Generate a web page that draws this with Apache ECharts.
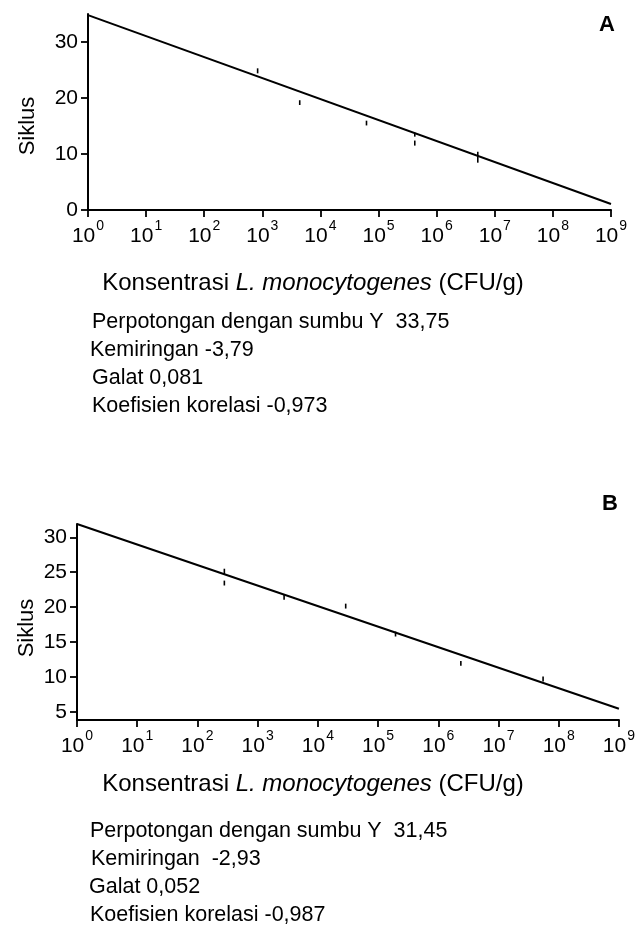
<!DOCTYPE html>
<html>
<head>
<meta charset="utf-8">
<script src="https://cdn.jsdelivr.net/npm/echarts@6/dist/echarts.min.js"></script>
<style>
html,body{margin:0;padding:0;background:#fff;}
#c{width:638px;height:937px;}
</style>
</head>
<body>
<div id="c"></div>
<script>
// ---- Data ----
const xTicks = [1, 1e1, 1e2, 1e3, 1e4, 1e5, 1e6, 1e7, 1e8, 1e9];
const yTicksA = [0, 10, 20, 30];
const yTicksB = [5, 10, 15, 20, 25, 30];

// Panel A: concentration (CFU/g), error bar low / high (cycles)
const concA = [830, 4400, 62000, 420000, 420000, 5100000];
const lowA  = [24.4, 18.75, 15.1, 13.1, 11.5, 8.45];
const highA = [25.3, 19.6, 15.95, 13.8, 12.4, 10.4];
const fitXA = [1, 1e9];
const fitYA = [34.8, 1.07];

// Panel B
const concB = [280, 280, 2750, 29000, 195000, 2370000, 55000000];
const lowB  = [24.6, 23.1, 21.07, 19.8, 15.8, 11.6, 9.35];
const highB = [25.5, 23.8, 21.8, 20.5, 16.5, 12.3, 10.07];
const fitXB = [1, 1e9];
const fitYB = [31.9, 5.45];

const xTitle = '{n|Konsentrasi }{i|L. monocytogenes}{n| (CFU/g)}';
const yTitle = 'Siklus';
const statsA = ['Perpotongan dengan sumbu Y  33,75', 'Kemiringan -3,79', 'Galat 0,081', 'Koefisien korelasi -0,973'];
const statsB = ['Perpotongan dengan sumbu Y  31,45', 'Kemiringan  -2,93', 'Galat 0,052', 'Koefisien korelasi -0,987'];

// ---- Chart ----
const FONT = "'Liberation Sans', Arial, sans-serif";
const chart = echarts.init(document.getElementById('c'), null, {renderer: 'canvas'});

function xAxisDef(gridIndex) {
  return {
    type: 'log', logBase: 10, gridIndex: gridIndex, min: 1, max: 1e9,
    axisLine: {show: true, lineStyle: {color: '#000', width: 2}},
    axisTick: {show: true, inside: false, length: 7, lineStyle: {color: '#000', width: 1.8}, customValues: xTicks},
    splitLine: {show: false},
    minorTick: {show: false},
    axisLabel: {
      customValues: xTicks,
      margin: 9, color: '#000',
      formatter: function (v) { return '{b|10}{s|' + Math.round(Math.log10(v)) + '}'; },
      rich: {
        b: {fontSize: 21, fontFamily: FONT, color: '#000', lineHeight: 28, verticalAlign: 'bottom'},
        s: {fontSize: 14, fontFamily: FONT, color: '#000', lineHeight: 14, verticalAlign: 'top', padding: [0, 0, 0, 1]}
      }
    }
  };
}
function yAxisDef(gridIndex, min, max, ticks) {
  return {
    type: 'value', gridIndex: gridIndex, min: min, max: max,
    axisLine: {show: true, lineStyle: {color: '#000', width: 2}},
    axisTick: {show: true, inside: false, length: 7, lineStyle: {color: '#000', width: 1.8}, customValues: ticks},
    splitLine: {show: false},
    axisLabel: {customValues: ticks, margin: 10, color: '#000', fontSize: 21, fontFamily: FONT}
  };
}

function errBar(params, api) {
  const x = api.value(0);
  const p1 = api.coord([x, api.value(1)]);
  const p2 = api.coord([x, api.value(2)]);
  return {type: 'line', shape: {x1: p1[0], y1: p1[1], x2: p2[0], y2: p2[1]},
          style: {stroke: '#000', lineWidth: 1.6}};
}

function textLines(lines, xs, ys, size) {
  return lines.map(function (t, i) {
    return {type: 'text', x: xs[i], y: ys[i],
            style: {text: t, fontSize: size, fontFamily: FONT, fill: '#000', verticalAlign: 'middle', align: 'left'}};
  });
}
function xTitleText(x, y) {
  return {type: 'text', x: x, y: y,
    style: {text: xTitle, align: 'center', verticalAlign: 'middle',
      rich: {
        n: {fontSize: 24, fontFamily: FONT, fill: '#000'},
        i: {fontSize: 24, fontFamily: FONT, fill: '#000', fontStyle: 'italic'}
      }}};
}
function yTitleText(x, y) {
  return {type: 'text', x: x, y: y, rotation: Math.PI / 2,
    style: {text: yTitle, fontSize: 22, fontFamily: FONT, fill: '#000', align: 'center', verticalAlign: 'middle'}};
}

const option = {
  backgroundColor: '#fff',
  animation: false,
  grid: [
    {left: 88, right: 27, top: 14, height: 196},
    {left: 77, right: 15, top: 524, height: 196}
  ],
  xAxis: [xAxisDef(0), xAxisDef(1)],
  yAxis: [yAxisDef(0, 0, 35, yTicksA), yAxisDef(1, 3.85, 31.9, yTicksB)],
  series: [
    {type: 'line', xAxisIndex: 0, yAxisIndex: 0, symbol: 'none',
     data: fitXA.map(function (x, i) { return [x, fitYA[i]]; }),
     lineStyle: {color: '#000', width: 2}},
    {type: 'custom', xAxisIndex: 0, yAxisIndex: 0, renderItem: errBar,
     encode: {x: 0, y: [1, 2]},
     data: concA.map(function (x, i) { return [x, lowA[i], highA[i]]; })},
    {type: 'line', xAxisIndex: 1, yAxisIndex: 1, symbol: 'none',
     data: fitXB.map(function (x, i) { return [x, fitYB[i]]; }),
     lineStyle: {color: '#000', width: 2}},
    {type: 'custom', xAxisIndex: 1, yAxisIndex: 1, renderItem: errBar,
     encode: {x: 0, y: [1, 2]},
     data: concB.map(function (x, i) { return [x, lowB[i], highB[i]]; })}
  ],
  graphic: [
    {type: 'text', x: 607, y: 25, style: {text: 'A', fontSize: 22, fontWeight: 'bold', fontFamily: FONT, fill: '#000', align: 'center', verticalAlign: 'middle'}},
    {type: 'text', x: 610, y: 504, style: {text: 'B', fontSize: 22, fontWeight: 'bold', fontFamily: FONT, fill: '#000', align: 'center', verticalAlign: 'middle'}},
    xTitleText(313, 283),
    xTitleText(313, 784),
    yTitleText(28, 126),
    yTitleText(27, 628)
  ].concat(
    textLines(statsA, [92, 90, 92, 92], [322, 350, 378, 406], 21.5),
    textLines(statsB, [90, 91, 89, 90], [831, 859, 887, 915], 21.5)
  )
};
chart.setOption(option);
</script>
</body>
</html>
